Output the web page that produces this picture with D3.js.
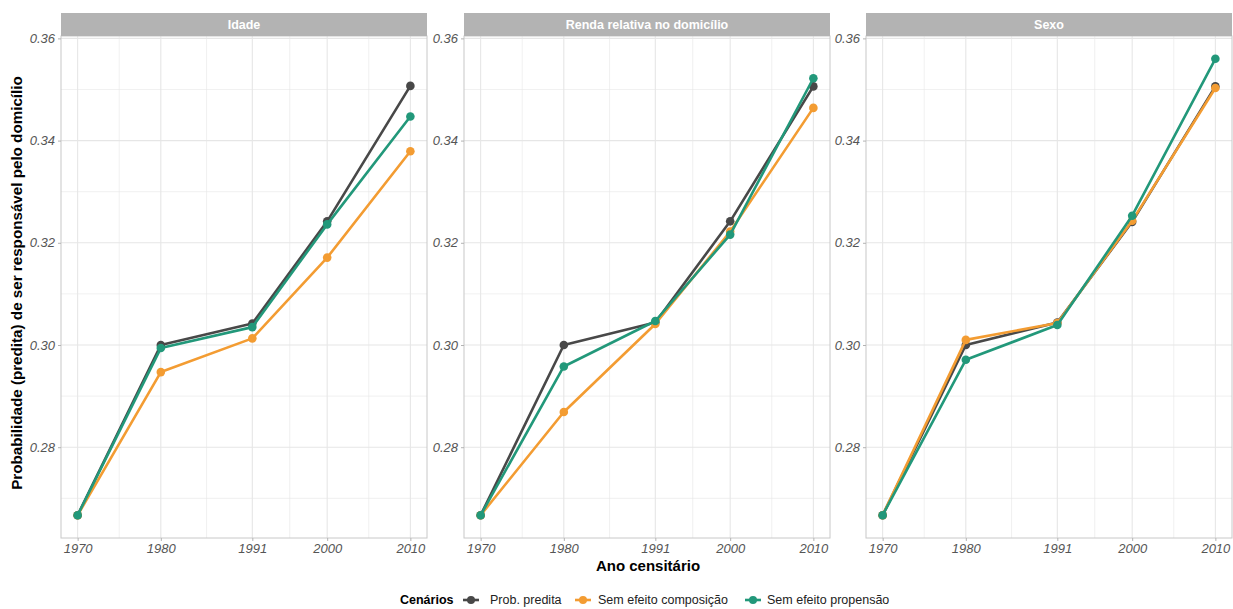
<!DOCTYPE html>
<html>
<head>
<meta charset="utf-8">
<script src="https://cdn.jsdelivr.net/npm/d3@7"></script>
<style>
  body { margin: 0; background: #fff; }
  svg { display: block; font-family: "Liberation Sans", Arial, sans-serif; }
</style>
</head>
<body>
<svg id="chart" width="1233" height="609"></svg>
<script>
// Census years and facet panels
const years = [1970, 1980, 1991, 2000, 2010];
const panels = ["Idade", "Renda relativa no domicílio", "Sexo"];
const scenarios = ["Prob. predita", "Sem efeito composição", "Sem efeito propensão"];

// Predicted probability per scenario, one array per panel
const idadePredita     = [0.2667, 0.3000, 0.3042, 0.3242, 0.3507];
const idadeComposicao  = [0.2667, 0.2947, 0.3013, 0.3171, 0.3379];
const idadePropensao   = [0.2667, 0.2994, 0.3035, 0.3236, 0.3447];

const rendaPredita     = [0.2667, 0.3000, 0.3044, 0.3242, 0.3506];
const rendaComposicao  = [0.2667, 0.2869, 0.3041, 0.3222, 0.3464];
const rendaPropensao   = [0.2667, 0.2958, 0.3047, 0.3216, 0.3522];

const sexoPredita      = [0.2667, 0.3000, 0.3044, 0.3241, 0.3506];
const sexoComposicao   = [0.2667, 0.3010, 0.3043, 0.3243, 0.3503];
const sexoPropensao    = [0.2667, 0.2971, 0.3039, 0.3253, 0.3560];

const yTicks = [0.28, 0.30, 0.32, 0.34, 0.36];
const yMinor = [0.27, 0.29, 0.31, 0.33, 0.35];

const seriesByPanel = {
  "Idade": [idadePredita, idadeComposicao, idadePropensao],
  "Renda relativa no domicílio": [rendaPredita, rendaComposicao, rendaPropensao],
  "Sexo": [sexoPredita, sexoComposicao, sexoPropensao]
};

const colors = d3.scaleOrdinal().domain(scenarios).range(["#484848", "#f39c32", "#22987a"]);

const svg = d3.select("#chart");
const panelLeft = [61, 464, 866];
const panelW = 366;
const panelTop = 36, panelBottom = 538;
const stripH = 23;

// Shared y scale with 5% expansion like ggplot
const allVals = Object.values(seriesByPanel).flat(2);
const yMin = d3.min(allVals), yMax = d3.max(allVals), yr = yMax - yMin;
const y = d3.scaleLinear().domain([yMin - 0.05 * yr, yMax + 0.05 * yr]).range([panelBottom, panelTop]);

const xr = d3.extent(years), xs = xr[1] - xr[0];
const xMinor = years.slice(0, -1).map((d, i) => (d + years[i + 1]) / 2);

const gridCol = "#e6e6e6";

panels.forEach((p, pi) => {
  const left = panelLeft[pi];
  const x = d3.scaleLinear().domain([xr[0] - 0.05 * xs, xr[1] + 0.05 * xs]).range([left, left + panelW]);
  const g = svg.append("g");

  // minor gridlines
  g.selectAll(".ymin").data(yMinor).join("line")
    .attr("x1", left).attr("x2", left + panelW)
    .attr("y1", d => y(d)).attr("y2", d => y(d))
    .attr("stroke", gridCol).attr("stroke-width", 0.6);
  g.selectAll(".xmin").data(xMinor).join("line")
    .attr("y1", panelTop).attr("y2", panelBottom)
    .attr("x1", d => x(d)).attr("x2", d => x(d))
    .attr("stroke", gridCol).attr("stroke-width", 0.6);
  // major gridlines
  g.selectAll(".ymaj").data(yTicks).join("line")
    .attr("x1", left).attr("x2", left + panelW)
    .attr("y1", d => y(d)).attr("y2", d => y(d))
    .attr("stroke", gridCol).attr("stroke-width", 1.1);
  g.selectAll(".xmaj").data(years).join("line")
    .attr("y1", panelTop).attr("y2", panelBottom)
    .attr("x1", d => x(d)).attr("x2", d => x(d))
    .attr("stroke", gridCol).attr("stroke-width", 1.1);

  // panel border
  g.append("rect").attr("x", left).attr("y", panelTop).attr("width", panelW)
    .attr("height", panelBottom - panelTop).attr("fill", "none")
    .attr("stroke", "#c8c8c8").attr("stroke-width", 1);

  // strip
  g.append("rect").attr("x", left).attr("y", panelTop - stripH).attr("width", panelW)
    .attr("height", stripH).attr("fill", "#b3b3b3");
  g.append("text").attr("x", left + panelW / 2).attr("y", panelTop - stripH / 2)
    .attr("dy", "0.35em").attr("text-anchor", "middle").attr("fill", "#fff")
    .attr("font-size", 12.5).attr("font-weight", "bold").text(p);

  // axes
  const yAxis = g.append("g").attr("transform", `translate(${left},0)`)
    .call(d3.axisLeft(y).tickValues(yTicks).tickFormat(d3.format(".2f")).tickSize(3).tickPadding(3));
  const xAxis = g.append("g").attr("transform", `translate(0,${panelBottom})`)
    .call(d3.axisBottom(x).tickValues(years).tickFormat(d3.format("d")).tickSize(3).tickPadding(3));
  [yAxis, xAxis].forEach(a => {
    a.select(".domain").remove();
    a.selectAll(".tick line").attr("stroke", "#b3b3b3");
    a.selectAll(".tick text").attr("fill", "#555").attr("font-size", 13)
      .attr("font-style", "italic").attr("font-family", "Liberation Sans, Arial, sans-serif");
  });

  // lines and points
  const line = d3.line().x((d, i) => x(years[i])).y(d => y(d));
  seriesByPanel[p].forEach((vals, si) => {
    const c = colors(scenarios[si]);
    g.append("path").datum(vals).attr("d", line).attr("fill", "none")
      .attr("stroke", c).attr("stroke-width", 2.6).attr("stroke-linejoin", "round");
    g.selectAll(null).data(vals).join("circle")
      .attr("cx", (d, i) => x(years[i])).attr("cy", d => y(d)).attr("r", 4.3).attr("fill", c);
  });
});

// axis titles
svg.append("text").attr("transform", `translate(22,${(panelTop + panelBottom) / 2 - 4}) rotate(-90)`)
  .attr("text-anchor", "middle").attr("font-size", 15.2).attr("font-weight", "bold").attr("fill", "#000")
  .text("Probabilidade (predita) de ser responsável pelo domicílio");
svg.append("text").attr("x", 648).attr("y", 571).attr("text-anchor", "middle")
  .attr("font-size", 15).attr("font-weight", "bold").attr("fill", "#000").text("Ano censitário");

// legend
const leg = svg.append("g").attr("transform", "translate(0,600)");
leg.append("text").attr("x", 400).attr("y", 0).attr("dy", "0.35em")
  .attr("font-size", 12.5).attr("font-weight", "bold").text("Cenários");
const keyX = [471, 583, 753];
const labelX = [490, 598, 767];
scenarios.forEach((s, i) => {
  const c = colors(s);
  leg.append("line").attr("x1", keyX[i] - 8).attr("x2", keyX[i] + 8).attr("y1", 0).attr("y2", 0)
    .attr("stroke", c).attr("stroke-width", 2.6);
  leg.append("circle").attr("cx", keyX[i]).attr("cy", 0).attr("r", 4).attr("fill", c);
  leg.append("text").attr("x", labelX[i]).attr("y", 0).attr("dy", "0.35em")
    .attr("font-size", 12.5).attr("fill", "#222").text(s);
});
</script>
</body>
</html>
